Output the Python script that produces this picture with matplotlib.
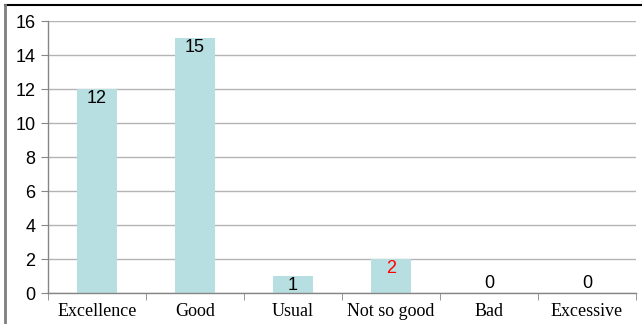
import matplotlib
matplotlib.use("Agg")
import matplotlib.pyplot as plt
from matplotlib.lines import Line2D
import numpy as np

categories = ["Excellence", "Good", "Usual", "Not so good", "Bad", "Excessive"]
counts = [12, 15, 1, 2, 0, 0]
label_colors = ["black", "black", "black", "#ff0000", "black", "black"]
y_ticks = [0, 2, 4, 6, 8, 10, 12, 14, 16]

fig = plt.figure(figsize=(6.42, 3.24), dpi=100)
ax = fig.add_axes([48 / 642, 31 / 324, 588 / 642, 272 / 324])

x = np.arange(len(categories))
ax.bar(x, counts, width=0.4, color="#b7dfe2", zorder=2)

ax.set_xlim(-0.5, len(categories) - 0.5)
ax.set_ylim(0, 16)
ax.set_yticks(y_ticks)
ax.set_yticklabels([str(t) for t in y_ticks], fontfamily="Liberation Sans", fontsize=13)
ax.yaxis.grid(True, color="#b4b4b4", linewidth=1.0, zorder=0)
ax.set_axisbelow(True)

ax.set_xticks(x)
ax.set_xticklabels(categories, fontfamily="Liberation Serif", fontsize=13)
ax.set_xticks(np.arange(-0.5, len(categories)), minor=True)
ax.tick_params(axis="x", which="major", length=0, pad=7)
ax.tick_params(axis="x", which="minor", length=5, color="#868686", direction="out")
ax.tick_params(axis="y", length=5, color="#868686", direction="out", pad=4)

for side in ("top", "right"):
    ax.spines[side].set_visible(False)
for side in ("left", "bottom"):
    ax.spines[side].set_color("#868686")
    ax.spines[side].set_linewidth(1.0)

for xi, v, c in zip(x, counts, label_colors):
    if v > 0:
        ax.annotate(str(v), (xi, v), xytext=(0, -1), textcoords="offset points",
                    ha="center", va="top", fontsize=13, fontfamily="Liberation Sans", color=c)
    else:
        ax.annotate(str(v), (xi, v), xytext=(0, 1), textcoords="offset points",
                    ha="center", va="bottom", fontsize=13, fontfamily="Liberation Sans", color=c)

# outer frame lines along top and left edges
fig.add_artist(Line2D([5 / 642, 1.0], [1 - 5 / 324, 1 - 5 / 324], transform=fig.transFigure,
                      color="black", linewidth=1.5))
fig.add_artist(Line2D([5 / 642, 5 / 642], [0, 1 - 5 / 324], transform=fig.transFigure,
                      color="#7f7f7f", linewidth=2.0))

fig.savefig("out.png", dpi=100)
